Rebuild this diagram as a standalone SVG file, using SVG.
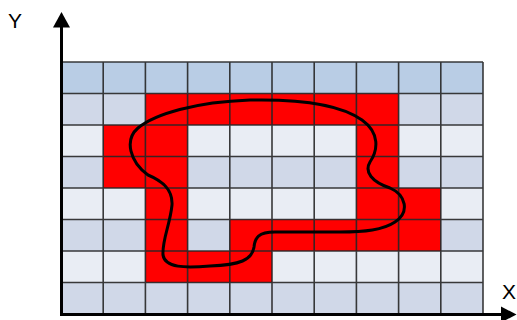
<svg xmlns="http://www.w3.org/2000/svg" width="517" height="320" viewBox="0 0 517 320">
<style>
.h{fill:#B9CDE5}
.d{fill:#D0D8E8}
.l{fill:#E9EDF4}
.r{fill:#FF0000}
.g{stroke:#262626;stroke-width:1.6;fill:none;opacity:0.9}
.ax{stroke:#000;stroke-width:3;fill:none}
.t{font-family:"Liberation Sans",Arial,sans-serif;font-size:21px;fill:#000}
</style>
<g id="rows">
<rect class="h" x="61" y="62" width="422" height="31.5"/>
<rect class="d" x="61" y="93.5" width="422" height="31.5"/>
<rect class="l" x="61" y="125" width="422" height="31.5"/>
<rect class="d" x="61" y="156.5" width="422" height="31.5"/>
<rect class="l" x="61" y="188" width="422" height="31.5"/>
<rect class="d" x="61" y="219.5" width="422" height="31.5"/>
<rect class="l" x="61" y="251" width="422" height="31.5"/>
<rect class="d" x="61" y="282.5" width="422" height="31.5"/>
</g>
<g id="red-cells">
<rect class="r" x="145.4" y="93.5" width="253.2" height="31.5"/>
<rect class="r" x="103.2" y="125" width="84.4" height="63"/>
<rect class="r" x="356.4" y="125" width="42.2" height="63"/>
<rect class="r" x="145.4" y="188" width="42.2" height="94.5"/>
<rect class="r" x="356.4" y="188" width="84.4" height="31.5"/>
<rect class="r" x="229.8" y="219.5" width="211" height="31.5"/>
<rect class="r" x="187.6" y="251" width="84.4" height="31.5"/>
</g>
<g id="grid" class="g">
<path d="M61,62H483M61,93.5H483M61,125H483M61,156.5H483M61,188H483M61,219.5H483M61,251H483M61,282.5H483M61,314H483"/>
<path d="M61,62V314M103.2,62V314M145.4,62V314M187.6,62V314M229.8,62V314M272,62V314M314.2,62V314M356.4,62V314M398.6,62V314M440.8,62V314M483,62V314"/>
</g>
<g id="curve">
<path d="M250,100 C300,99 340,104 362,120 C380,133 378,150 370,162 C364,172 372,182 390,188 C406,195 410,212 395,222 C383,230 365,232 340,232 L275,232 C258,232 255,238 254,247 C252,260 240,265 210,266 C185,268 165,268 163,255 C162,240 170,225 172,205 C173,188 160,180 148,175 C130,162 124,140 138,128 C155,114 195,102 250,100 Z" fill="none" stroke="#000" stroke-width="3"/>
</g>
<g id="axes">
<path class="ax" d="M61.5,315 V27"/>
<polygon points="53,27.5 61.5,12 70,27.5" fill="#000"/>
<path class="ax" d="M60,314.5 H502"/>
<polygon points="501,306.5 516.5,314.5 501,322.5" fill="#000"/>
<text class="t" x="8" y="28">Y</text>
<text class="t" x="502" y="299">X</text>
</g>
</svg>
